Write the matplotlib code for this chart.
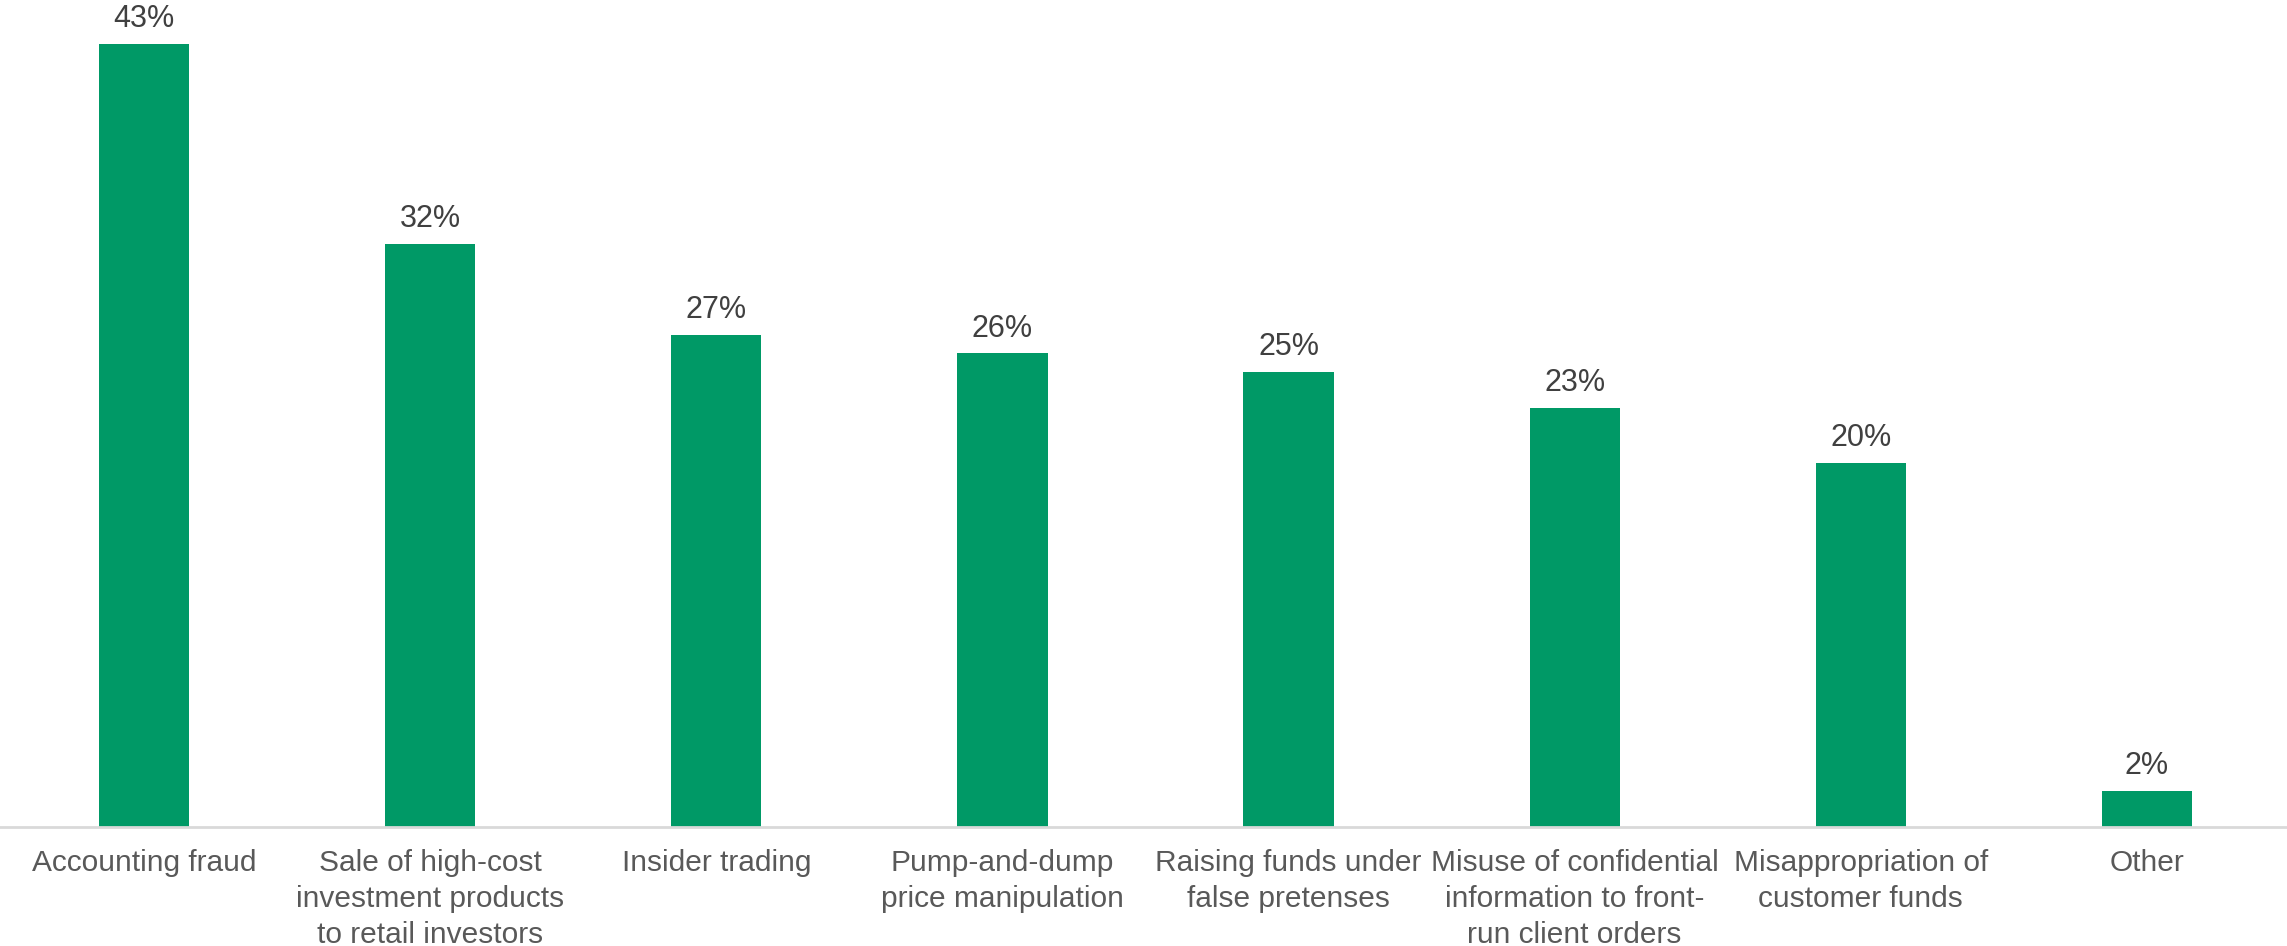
import matplotlib.pyplot as plt

categories = [
    'Accounting fraud',
    'Sale of high-cost\ninvestment products\nto retail investors',
    'Insider trading',
    'Pump-and-dump\nprice manipulation',
    'Raising funds under\nfalse pretenses',
    'Misuse of confidential\ninformation to front-\nrun client orders',
    'Misappropriation of\ncustomer funds',
    'Other',
]
shares = [43, 32, 27, 26, 25, 23, 20, 2]

plt.rcParams['font.family'] = ['Liberation Sans', 'DejaVu Sans']


def main():
    fig = plt.figure(figsize=(22.87, 9.46), dpi=100)
    ax = fig.add_axes([0, 0.1258, 1, 0.8742])

    x = range(len(categories))
    bars = ax.bar(x, shares, width=0.315, color='#009966')

    for rect, v in zip(bars, shares):
        ax.annotate(f'{v}%', (rect.get_x() + rect.get_width() / 2, v),
                    xytext=(0, 7), textcoords='offset points',
                    ha='center', va='bottom', fontsize=22, color='#404040')

    ax.set_xlim(-0.504, 7.49)
    ax.set_ylim(0, 45.4)
    ax.set_xticks(list(x))
    ax.set_xticklabels(categories, fontsize=21.5, color='#595959', linespacing=1.35)
    ax.tick_params(axis='x', length=0, pad=16)
    ax.set_yticks([])

    for side in ['left', 'right', 'top']:
        ax.spines[side].set_visible(False)
    ax.spines['bottom'].set_color('#d9d9d9')
    ax.spines['bottom'].set_linewidth(2)

    fig.savefig('out.png', dpi=100)


if __name__ == '__main__':
    main()
